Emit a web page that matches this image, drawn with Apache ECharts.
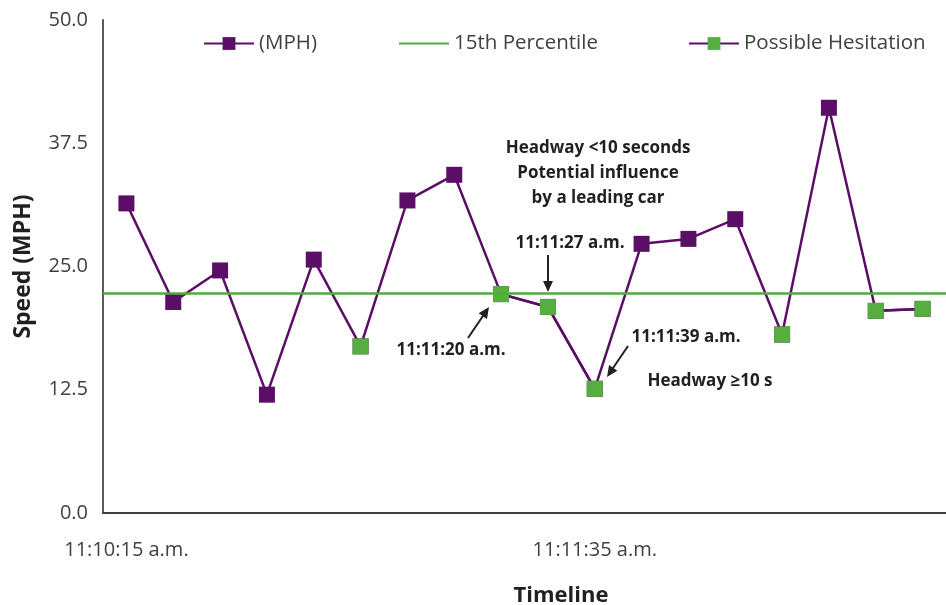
<!DOCTYPE html>
<html>
<head>
<meta charset="utf-8">
<script src="https://cdn.jsdelivr.net/npm/echarts@6/dist/echarts.min.js"></script>
<style>html,body{margin:0;padding:0;background:#fff}#c{width:946px;height:605px}</style>
</head>
<body>
<div id="c"></div>
<script>
// ---- data ----
var categories = ['p1','p2','p3','p4','p5','p6','p7','p8','p9','p10','p11','p12','p13','p14','p15','p16','p17','p18'];
var tickLabels = ['11:10:15 a.m.','','','','','','','','','','11:11:35 a.m.','','','','','','',''];
var speedMph = [31.4, 21.4, 24.6, 12.0, 25.7, 16.9, 31.7, 34.3, 22.2, 20.9, 12.6, 27.3, 27.8, 29.8, 18.1, 41.1, 20.5, 20.7];
var hesitation = [null, null, null, null, null, 16.9, null, null, 22.2, 20.9, 12.6, null, null, null, 18.1, null, 20.5, 20.7];
var percentile15 = 22.3;
var yTicks = [0, 12.5, 25, 37.5, 50];

var PURPLE = '#5b0e66', GREEN = '#55ae3f', LINEGREEN = '#4cae3c', TXT = '#231f20';
var FONT = '"Open Sans", "Noto Sans", sans-serif';

function arrow(x1, y1, x2, y2) {
  var dx = x2 - x1, dy = y2 - y1, L = Math.sqrt(dx*dx + dy*dy);
  var ux = dx / L, uy = dy / L, hl = 11, hw = 5;
  var bx = x2 - ux*hl, by = y2 - uy*hl, px = -uy, py = ux;
  return [
    {type:'line', shape:{x1:x1, y1:y1, x2:bx + ux*2, y2:by + uy*2}, style:{stroke:TXT, lineWidth:2}},
    {type:'polygon', shape:{points:[[x2,y2],[bx+px*hw, by+py*hw],[bx-px*hw, by-py*hw]]}, style:{fill:TXT}}
  ];
}
function label(text, x, y) {
  return {type:'text', x:x, y:y, style:{text:text, fill:TXT, font:'bold 17px ' + FONT, textAlign:'center', textVerticalAlign:'middle', lineHeight:25}};
}

var graphics = [
  {type:'text', x:598, y:136, style:{text:'Headway <10 seconds\nPotential influence\nby a leading car', fill:TXT, font:'bold 17px ' + FONT, textAlign:'center', textVerticalAlign:'top', lineHeight:25}},
  label('11:11:27 a.m.', 570, 243),
  label('11:11:20 a.m.', 451, 350),
  label('11:11:39 a.m.', 686, 337),
  label('Headway \u226510 s', 710, 381),
  {type:'text', x:561, y:596, style:{text:'Timeline', fill:TXT, font:'bold 22px ' + FONT, textAlign:'center', textVerticalAlign:'middle'}}
].concat(arrow(548, 255, 548, 292), arrow(468, 338, 489, 307), arrow(628, 346, 607, 377));

function legendAt(name, left, extra) {
  var item = {name: name};
  if (extra) for (var k in extra) item[k] = extra[k];
  return {
    left: left, top: 28, itemWidth: 50, itemHeight: 16,
    textStyle: {fontSize: 20.5, color: '#404040', fontFamily: FONT},
    data: [item]
  };
}

var chart = echarts.init(document.getElementById('c'));
chart.setOption({
  animation: false,
  textStyle: {fontFamily: FONT},
  grid: {left: 103, right: 0, top: 20, bottom: 92, containLabel: false},
  legend: [
    legendAt('(MPH)', 198),
    legendAt('15th Percentile', 393, {itemStyle: {opacity: 0}}),
    legendAt('Possible Hesitation', 683)
  ],
  xAxis: {
    type: 'category', data: categories, boundaryGap: true,
    axisLine: {lineStyle: {color: '#3d3d3d', width: 2}},
    axisTick: {show: false},
    axisLabel: {
      interval: 0, margin: 27, fontSize: 20, color: '#404040',
      formatter: function (v, i) { return tickLabels[i]; }
    }
  },
  yAxis: {
    type: 'value', min: 0, max: 50, interval: 12.5,
    name: 'Speed (MPH)', nameLocation: 'middle', nameGap: 68, nameRotate: 90,
    nameTextStyle: {fontSize: 23, fontWeight: 'bold', color: TXT},
    axisLine: {show: true, lineStyle: {color: '#58595b', width: 2}},
    axisTick: {show: false},
    splitLine: {show: false},
    axisLabel: {
      margin: 15, fontSize: 20, color: '#404040',
      formatter: function (v) { return yTicks.indexOf(v) >= 0 ? v.toFixed(1) : ''; }
    }
  },
  series: [
    {
      name: '(MPH)', type: 'line', data: speedMph,
      symbol: 'rect', symbolSize: 16, showAllSymbol: true,
      lineStyle: {color: PURPLE, width: 2.5},
      itemStyle: {color: PURPLE},
      z: 3
    },
    {
      name: '15th Percentile', type: 'line', data: [],
      symbol: 'none',
      lineStyle: {color: LINEGREEN, width: 2.5},
      itemStyle: {color: LINEGREEN},
      markLine: {
        silent: true, symbol: ['none', 'none'], label: {show: false},
        lineStyle: {color: LINEGREEN, width: 2.5, type: 'solid'},
        data: [{yAxis: percentile15}]
      },
      z: 2
    },
    {
      name: 'Possible Hesitation', type: 'line', data: hesitation,
      symbol: 'rect', symbolSize: 16, showAllSymbol: true, connectNulls: false,
      lineStyle: {color: PURPLE, width: 2.5},
      itemStyle: {color: GREEN},
      z: 4
    }
  ],
  graphic: graphics
});
</script>
</body>
</html>
